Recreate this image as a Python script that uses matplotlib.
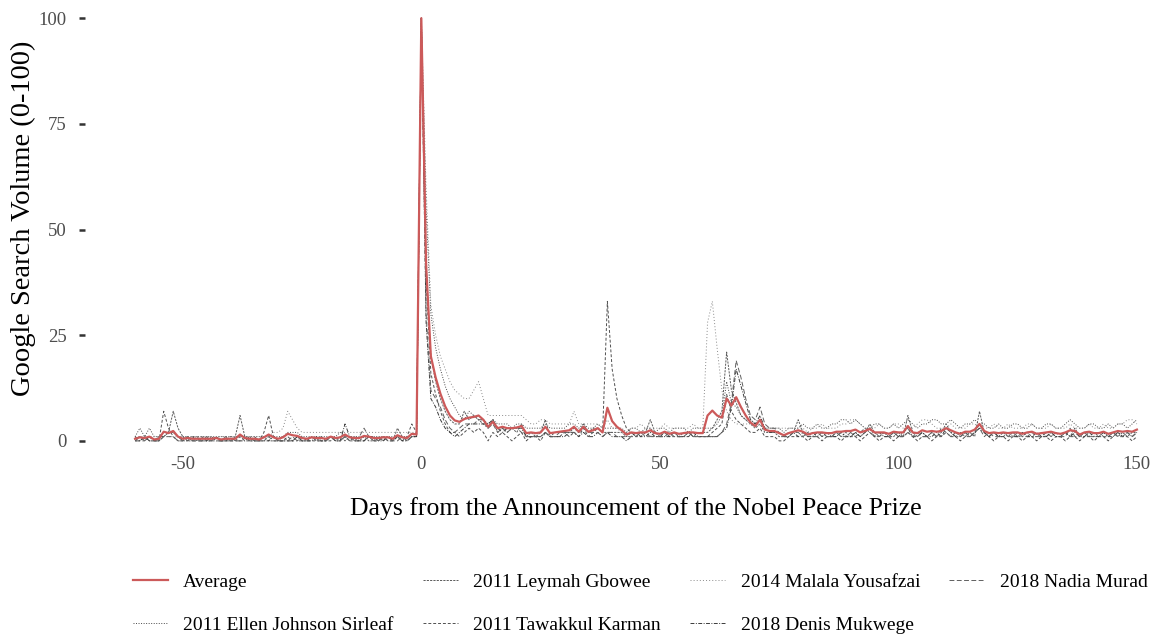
import numpy as np
import matplotlib
matplotlib.use("Agg")
import matplotlib.pyplot as plt

plt.rcParams['font.family'] = ['Liberation Serif', 'DejaVu Serif']

days = np.arange(-60, 151)

# daily search volume, day -60 .. day 150
ellen = [1,3,1,3,1,1,2,2,2,1, 1,1,1,1,1,1,1,1,1,1, 1,1,1,1,1,1,1,1,1,1,
         1,1,2,2,2,1,1,1,1,1, 1,1,1,2,1,1,1,1,1,1, 1,1,1,1,1,1,1,1,1,1,
         100,
         55,30,22,17,13,10,8,6,5,7, 6,5,5,4,5,4,4,4,3,4, 4,3,3,3,3,4,3,3,3,3,
         4,4,3,4,3,3,4,3,3,3, 3,3,2, 3,3,2,3,3,2,3,3,2,3,3,3,2,3,3,
         3,3,3,4,6,14,9,8,6,5,5,4,5,3,3,3,3,2,3,3,
         3,4,3,3,4,3,3,4,4,5, 5,4,5,4,3,3,4,4,3,3, 4,3,4,5,4,3,4,4,5,5,
         4,4,5,4,3,4,4,5,4,4, 3,3,4,3,3,4,4,3,3,4, 3,3,4,4,3,3,4,5,4,3,
         3,4,4,3,3,4,3,4,4,3, 4,5]

leymah = [0,0,1,0,0,0,1,2,7,3, 1,0,0,1,0,0,0,1,0,0, 0,1,6,1,0,0,0,1,0,0,
          0,1,0,0,1,0,0,1,0,0, 0,1,0,1,0,1,0,0,1,0, 0,1,0,1,0,3,1,0,1,1,
          100,
          40,20,14,10,7,5,4,4,7,5, 6,5,4,3,5,2,3,2,3,2, 4,1,2,1,2,5,1,2,2,2,
          2,3,2,4,2,3,3,2,2,2, 2,2,1, 2,1,2,2,5,2,1,2,1,2,1,2,2,1,2,
          2,2,3,5,7,21,12,9,6,5,4,3,4,2,2,2,1,1,2,2,
          5,2,1,2,1,2,1,1,2,1, 2,1,2,1,2,4,2,1,2,1, 1,2,1,6,2,1,2,1,2,1,
          2,4,2,1,2,1,2,1,7,2, 1,2,1,2,1,2,1,1,2,1, 1,2,1,2,1,1,2,1,3,1,
          2,1,2,1,2,1,2,1,2,1, 2,2]

tawakkul = [0,1,0,1,0,0,7,3,1,0, 0,1,0,0,1,0,0,1,0,0, 0,0,1,0,0,1,0,2,6,1,
            0,0,1,0,0,1,0,0,0,1, 0,0,1,0,1,0,1,0,0,1, 0,0,1,0,0,1,0,1,4,2,
            100,
            38,16,11,7,4,2,2,1,2,3, 2,3,2,0,2,1,2,1,0,1, 2,0,1,1,0,2,1,1,1,2,
            1,2,1,3,1,2,3,2,33,17, 10,6,3, 2,1,1,2,1,1,1,2,1,1,1,1,2,1,1,
            1,1,2,3,4,11,7,5,4,3,2,2,3,1,1,1,0,0,1,1,
            1,1,0,1,1,0,1,1,1,0, 1,1,1,0,1,2,1,0,1,1, 0,1,1,2,1,0,1,1,0,1,
            1,2,1,1,0,1,1,2,4,2, 1,0,1,1,0,1,1,0,1,1, 0,1,1,0,1,1,0,1,1,0,
            1,1,0,1,1,0,1,2,1,1, 0,1]

malala = [1,1,1,1,1,1,1,1,1,1, 1,1,1,1,1,1,1,1,1,1, 1,1,1,1,1,1,1,1,1,2,
          2,3,7,5,3,2,2,2,2,2, 2,2,2,2,2,2,2,2,2,2, 2,2,2,2,2,2,2,2,2,2,
          100,
          60,32,25,20,17,14,12,11,10,10, 12,14,10,6,6,6,6,6,6,6, 6,5,4,4,5,5,4,4,4,4,
          4,7,4,4,4,4,4,3,5,3, 3,2,2, 3,3,4,3,3,3,3,4,3,3,3,3,3,4,3,
          3,28,33,22,12,7,5,4,4,4,4,3,4,3,3,3,3,3,3,3,
          3,3,2,3,3,4,3,3,3,4, 4,5,5,4,3,3,3,4,3,3, 4,4,3,3,3,4,5,5,4,3,
          3,3,4,3,3,3,4,4,3,3, 3,4,3,3,4,3,3,3,4,4, 3,3,3,4,3,3,3,4,3,3,
          3,4,3,3,4,3,3,4,4,5, 5,4]

nadia = [0,0,0,1,0,0,1,1,1,0, 0,1,0,0,0,1,0,0,0,1, 0,0,0,1,0,0,0,0,1,0,
         0,0,0,1,0,0,0,1,0,0, 0,1,0,0,1,0,0,1,3,1, 0,0,1,0,0,0,1,0,1,2,
         100,
         30,12,10,8,5,3,2,3,4,4, 4,5,5,3,4,2,3,2,3,3, 2,1,1,1,1,2,1,1,2,2,
         2,2,2,3,2,2,2,1,2,2, 1,1,1, 1,1,2,1,1,2,1,1,2,1,1,1,2,1,1,
         1,1,1,1,2,4,9,19,15,10,6,5,8,4,3,3,2,1,1,2,
         2,1,2,1,1,2,1,1,2,1, 1,2,1,2,3,2,1,1,2,1, 2,1,1,2,1,2,1,1,2,1,
         3,2,1,2,1,2,1,2,3,1, 2,1,1,2,1,1,2,1,1,2, 1,1,2,1,2,1,1,3,1,1,
         2,1,1,2,1,1,2,1,1,2, 1,2]

denis = [1,0,1,0,0,1,1,2,2,1, 0,0,1,0,0,0,1,0,0,0, 1,0,0,0,1,0,0,0,0,1,
         0,0,0,0,1,0,0,0,1,0, 0,1,0,0,4,1,0,0,0,1, 1,0,0,1,0,1,0,0,1,1,
         100,
         28,10,8,5,3,2,1,2,3,4, 4,4,4,4,5,3,2,3,3,3, 3,1,1,1,1,2,1,1,1,1,
         2,2,1,2,1,1,2,1,2,1, 1,1,0, 1,2,1,1,2,1,1,1,1,2,1,1,1,2,1,
         1,1,1,1,2,3,8,17,13,9,5,4,6,3,2,2,2,1,1,2,
         1,2,1,1,2,1,2,1,1,2, 1,1,2,1,2,3,1,2,1,1, 2,1,2,3,1,1,2,1,1,2,
         1,3,2,1,1,2,1,2,3,2, 1,2,1,1,2,1,1,2,1,1, 2,1,1,2,1,1,2,1,2,1,
         1,2,1,1,2,1,1,2,1,2, 1,2]

names = ["2011 Ellen Johnson Sirleaf", "2011 Leymah Gbowee", "2011 Tawakkul Karman",
         "2014 Malala Yousafzai", "2018 Denis Mukwege", "2018 Nadia Murad"]
series = [ellen, leymah, tawakkul, malala, denis, nadia]
styles = [(0, (1, 1.6)), (0, (2.2, 1.2)), (0, (3, 2)), (0, (1, 2.2)),
          (0, (4, 1.5, 1, 1.5)), (0, (5, 2.5))]
greys = ['#4a4a4a', '#5a5a5a', '#505050', '#8a8a8a', '#3a3a3a', '#606060']

xticks = [-50, 0, 50, 100, 150]
xticklabels = ["-50", "0", "50", "100", "150"]
yticks = [0, 25, 50, 75, 100]

average = np.mean(np.array(series, dtype=float), axis=0)

fig = plt.figure(figsize=(11.63, 6.37), dpi=100)
ax = fig.add_axes([85/1163, 1-462/637, 1102/1163, 462/637])

ax.plot(days, average, color='#cc5a5a', lw=1.6, label="Average", zorder=5)
for s, nm, ls, c in zip(series, names, styles, greys):
    ax.plot(days, s, color=c, lw=0.7, linestyle=ls, label=nm)

ax.set_xlim(-70.5, 160.5)
ax.set_ylim(-5, 104.3)
ax.set_xticks(xticks)
ax.set_xticklabels(xticklabels)
ax.set_yticks(yticks)
for sp in ax.spines.values():
    sp.set_visible(False)
ax.tick_params(axis='y', length=4, width=1.8, color='#333333', pad=9,
               labelsize=13.5, labelcolor='#4d4d4d')
ax.tick_params(axis='x', length=0, pad=-4, labelsize=13.5, labelcolor='#4d4d4d')

ax.set_xlabel("Days from the Announcement of the Nobel Peace Prize", fontsize=18.5, labelpad=17)
ax.set_ylabel("Google Search Volume (0-100)", fontsize=20.5)
ax.yaxis.set_label_coords(-0.0445, 0.528)

ax.legend(loc='center', bbox_to_anchor=(0.5505, 0.052), bbox_transform=fig.transFigure,
          ncol=4, frameon=False, fontsize=14, handlelength=1.8, columnspacing=1.5,
          handletextpad=0.8, labelspacing=1.3)

fig.savefig('out.png', dpi=100)
